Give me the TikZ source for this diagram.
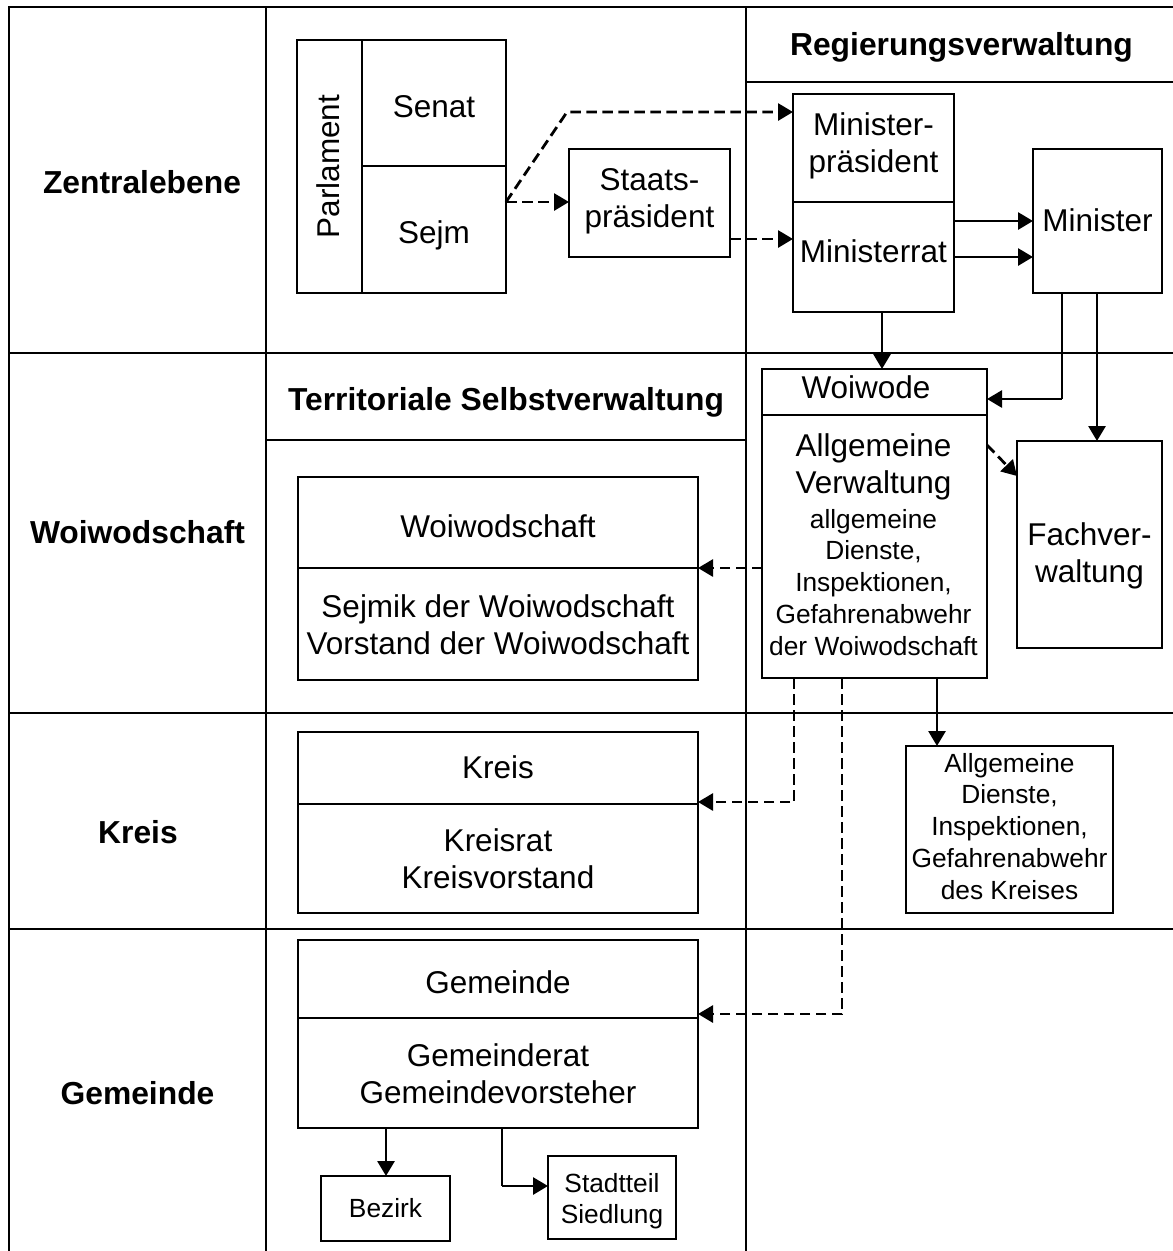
\documentclass[tikz,border=0pt]{standalone}
\usepackage{fontspec}
\setmainfont{Liberation Sans}
\usetikzlibrary{arrows.meta}
\newcommand{\lns}[1]{\begin{tabular}[t]{@{}c@{}}#1\end{tabular}}
\begin{document}
\begin{tikzpicture}[x=1pt,y=-1pt,
  grid/.style={line width=2.2pt},
  box/.style={draw, line width=1.6pt, inner sep=0pt, outer sep=0pt},
  big/.style={font=\fontsize{31.5}{37.8}\selectfont, inner sep=0pt, anchor=base},
  small/.style={font=\fontsize{26.3}{31.8}\selectfont, inner sep=0pt, anchor=base},
  head/.style={font=\bfseries\fontsize{31.8}{38}\selectfont, inner sep=0pt, anchor=base},
  solidarrow/.style={line width=2.8pt, -{Triangle[length=15pt,width=17pt]}},
  dasharrow/.style={line width=2.8pt, dash pattern=on 10.5pt off 5.5pt, -{Triangle[length=15pt,width=17pt]}},
  thinline/.style={line width=1.6pt}]
\useasboundingbox (0,0) rectangle (1173,1251);
\fill[white] (0,0) rectangle (1173,1251);
% grid
\draw[grid] (9,1251) -- (9,7) -- (1173,7);
\draw[grid] (266,7) -- (266,1251);
\draw[grid] (746,7) -- (746,1251);
\draw[grid] (9,353) -- (1173,353);
\draw[grid] (9,713) -- (1173,713);
\draw[grid] (9,929) -- (1173,929);
\draw[grid] (746,82) -- (1173,82);
\draw[grid] (266,440) -- (746,440);
% headers
\node[head] (hZ) at (142,193) {Zentralebene};
\node[head] (hW) at (137.5,543) {Woiwodschaft};
\node[head] (hK) at (138,843) {Kreis};
\node[head] (hG) at (137.5,1104) {Gemeinde};
\node[head] (hR) at (961.5,55) {Regierungsverwaltung};
\node[head] (hT) at (506,410) {Territoriale Selbstverwaltung};
% boxes
\node[box, minimum width=65pt, minimum height=253pt] (Parl) at (329.5,166.5) {};
\node[box, minimum width=144pt, minimum height=126pt] (Senat) at (434,103) {};
\node[box, minimum width=144pt, minimum height=127pt] (Sejm) at (434,229.5) {};
\node[box, minimum width=161pt, minimum height=108pt] (Staat) at (649.5,203) {};
\node[box, minimum width=161pt, minimum height=108pt] (MinP) at (873.5,148) {};
\node[box, minimum width=161pt, minimum height=110pt] (MinR) at (873.5,257) {};
\node[box, minimum width=129pt, minimum height=144pt] (Min) at (1097.5,221) {};
\node[box, minimum width=225pt, minimum height=46pt] (Woi) at (874.5,392) {};
\node[box, minimum width=225pt, minimum height=263pt] (AV) at (874.5,546.5) {};
\node[box, minimum width=145pt, minimum height=207pt] (Fach) at (1089.5,544.5) {};
\node[box, minimum width=400pt, minimum height=91pt] (WsT) at (498,522.5) {};
\node[box, minimum width=400pt, minimum height=112pt] (WsB) at (498,624) {};
\node[box, minimum width=400pt, minimum height=72pt] (KrT) at (498,768) {};
\node[box, minimum width=400pt, minimum height=109pt] (KrB) at (498,858.5) {};
\node[box, minimum width=207pt, minimum height=167pt] (KD) at (1009.5,829.5) {};
\node[box, minimum width=400pt, minimum height=78pt] (GmT) at (498,979) {};
\node[box, minimum width=400pt, minimum height=110pt] (GmB) at (498,1073) {};
\node[box, minimum width=129pt, minimum height=65pt] (Bez) at (385.5,1208.5) {};
\node[box, minimum width=128pt, minimum height=83pt] (Std) at (612,1197.5) {};
% texts
\node[big, rotate=90] (tParl) at (339,166.5) {Parlament};
\node[big] (tSenat) at (434,117) {Senat};
\node[big] (tSejm) at (434,243) {Sejm};
\node[big] (tStaat) at (649.5,190) {\lns{Staats-\\präsident}};
\node[big] (tMinP) at (873.5,135) {\lns{Minister-\\präsident}};
\node[big] (tMinR) at (873.5,262) {Ministerrat};
\node[big] (tMin) at (1097.5,231) {Minister};
\node[big] (tWoi) at (866,398) {Woiwode};
\node[big] (tAV) at (873.5,456) {\lns{Allgemeine\\Verwaltung}};
\node[small] (tAVs) at (873.5,528) {\lns{allgemeine\\Dienste,\\Inspektionen,\\Gefahrenabwehr\\der Woiwodschaft}};
\node[big] (tFach) at (1089.5,545) {\lns{Fachver-\\waltung}};
\node[big] (tWsT) at (498,537) {Woiwodschaft};
\node[big] (tWsB) at (498,617) {\lns{Sejmik der Woiwodschaft\\Vorstand der Woiwodschaft}};
\node[big] (tKrT) at (498,778) {Kreis};
\node[big] (tKrB) at (498,851) {\lns{Kreisrat\\Kreisvorstand}};
\node[small] (tKD) at (1009.5,772) {\lns{Allgemeine\\Dienste,\\Inspektionen,\\Gefahrenabwehr\\des Kreises}};
\node[big] (tGmT) at (498,993) {Gemeinde};
\node[big] (tGmB) at (498,1066) {\lns{Gemeinderat\\Gemeindevorsteher}};
\node[small] (tBez) at (385.5,1217) {Bezirk};
\node[small] (tStd) at (612,1192) {\lns{Stadtteil\\Siedlung}};
% helper coordinates
\coordinate (y202) at (0,202);
\coordinate (y239) at (0,239);
\coordinate (y221) at (0,221);
\coordinate (y257) at (0,257);
\coordinate (y445) at (0,445);
\coordinate (y476) at (0,476);
\coordinate (c1) at (567,112);
\coordinate (x882) at (882,0);
\coordinate (x1097) at (1097,0);
\coordinate (x937) at (937,0);
\coordinate (x386) at (386,0);
\coordinate (b6) at (1062,399);
\coordinate (b10) at (794,802);
\coordinate (b11) at (842,1014);
\coordinate (b14) at (502,1186);
% connectors
\draw[dasharrow] (Sejm.east |- y202) -- (Staat.west |- y202);
\draw[dasharrow] (Sejm.east |- y202) -- (c1) -- (MinP.west |- c1);
\draw[dasharrow] (Staat.east |- y239) -- (MinR.west |- y239);
\draw[solidarrow] (MinR.east |- y221) -- (Min.west |- y221);
\draw[solidarrow] (MinR.east |- y257) -- (Min.west |- y257);
\draw[solidarrow] (MinR.south -| x882) -- (Woi.north -| x882);
\draw[thinline] (Min.south -| b6) -- (b6);
\draw[solidarrow] (b6) -- (Woi.east |- b6);
\draw[solidarrow] (Min.south -| x1097) -- (Fach.north -| x1097);
\draw[dasharrow] (AV.east |- y445) -- (Fach.west |- y476);
\draw[dasharrow] (AV.west |- WsT.south) -- (WsT.south east);
\draw[dasharrow] (AV.south -| b10) -- (b10) -- (KrT.east |- b10);
\draw[dasharrow] (AV.south -| b11) -- (b11) -- (GmT.east |- b11);
\draw[solidarrow] (AV.south -| x937) -- (KD.north -| x937);
\draw[solidarrow] (GmB.south -| x386) -- (Bez.north -| x386);
\draw[thinline] (GmB.south -| b14) -- (b14);
\draw[solidarrow] (b14) -- (Std.west |- b14);
\end{tikzpicture}
\end{document}
